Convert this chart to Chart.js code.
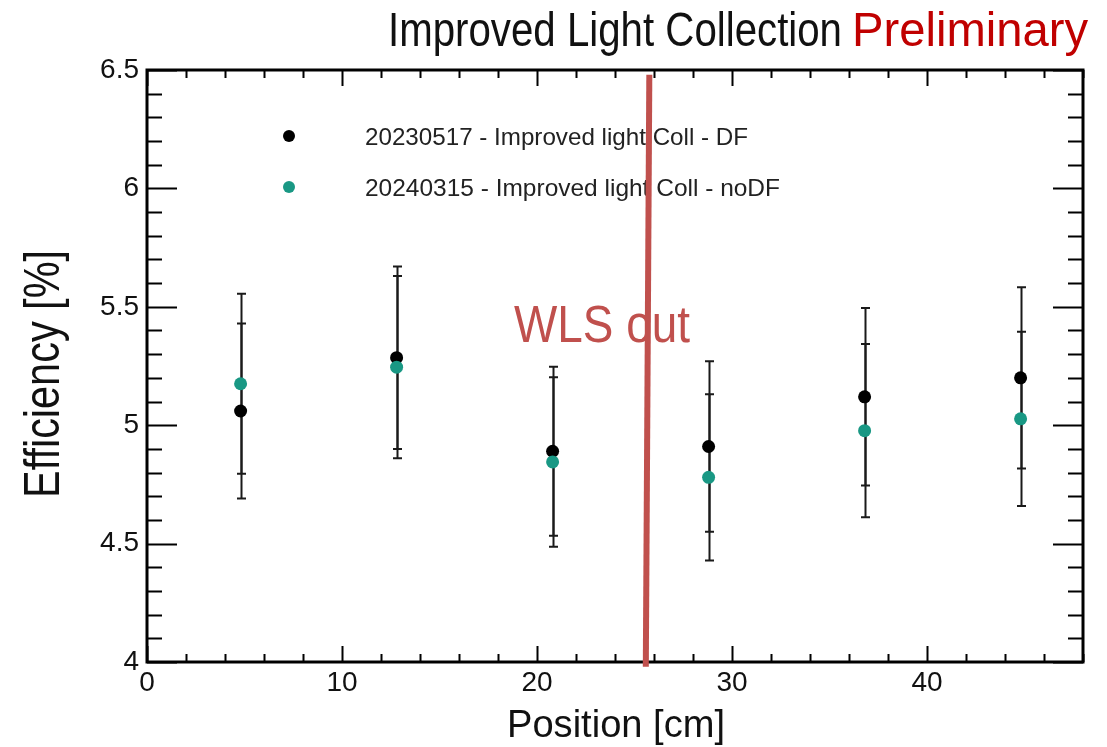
<!DOCTYPE html>
<html>
<head>
<meta charset="utf-8">
<title>Improved Light Collection</title>
<script src="https://cdn.jsdelivr.net/npm/chart.js@4/dist/chart.umd.min.js"></script>
<style>
  html, body { margin: 0; padding: 0; background: #fff; }
  #wrap { width: 1107px; height: 747px; }
</style>
</head>
<body>
<div id="wrap"><canvas id="grafica" width="1107" height="747"></canvas></div>
<script>
// posiciones de medida [cm]
const posiciones = [4.8, 12.8, 20.8, 28.8, 36.8, 44.8];

// 20230517 - DF
const efDF = [5.06, 5.285, 4.89, 4.91, 5.12, 5.20];
const errDF = [0.37, 0.385, 0.357, 0.36, 0.375, 0.383];

// 20240315 - noDF
const efNoDF = [5.175, 5.245, 4.845, 4.78, 4.977, 5.027];
const errNoDF = [0.38, 0.385, 0.358, 0.351, 0.366, 0.368];

// linea "WLS out"
const wlsX = [25.76, 25.58];
const wlsY = [6.48, 3.98];

const ticksX = [0, 10, 20, 30, 40];
const ticksY = [4, 4.5, 5, 5.5, 6, 6.5];

const etiquetasSeries = [
  "20230517 - Improved light Coll - DF",
  "20240315 - Improved light Coll - noDF"
];

const NEGRO = "#000000";
const VERDE = "#199884";
const ROJO = "#c0504d";
const FUENTE = '"Liberation Sans", Arial, sans-serif';

Chart.defaults.font.family = FUENTE;
Chart.defaults.color = "#111";

// texto ajustado a un ancho dado
function textoAjustado(ctx, texto, x, y, ancho, tam, color, rot) {
  ctx.save();
  ctx.font = `${tam}px ${FUENTE}`;
  ctx.fillStyle = color;
  ctx.textAlign = "left";
  ctx.textBaseline = "alphabetic";
  const w = ctx.measureText(texto).width;
  ctx.translate(x, y);
  if (rot) ctx.rotate(rot);
  ctx.scale(ancho / w, 1);
  ctx.fillText(texto, 0, 0);
  ctx.restore();
}

const marcoYTicks = {
  id: "marcoYTicks",
  beforeDatasetsDraw(chart) {
    const { ctx, chartArea: a, scales: { x, y } } = chart;
    ctx.save();
    ctx.strokeStyle = "#000";

    // ticks menores y mayores hacia dentro
    ctx.lineWidth = 2;
    ctx.beginPath();
    for (let i = 0; i <= 25; i++) {
      const v = 4 + i * 0.1;
      const py = Math.round(y.getPixelForValue(v)) + 0.5;
      const l = (i % 5 === 0) ? 30 : 15;
      ctx.moveTo(a.left, py); ctx.lineTo(a.left + l, py);
      ctx.moveTo(a.right, py); ctx.lineTo(a.right - l, py);
    }
    for (let v = 0; v <= 48; v += 2) {
      const px = Math.round(x.getPixelForValue(v)) + 0.5;
      const l = (v % 10 === 0) ? 16 : 8;
      ctx.moveTo(px, a.bottom); ctx.lineTo(px, a.bottom - l);
      ctx.moveTo(px, a.top); ctx.lineTo(px, a.top + l);
    }
    ctx.stroke();

    ctx.lineWidth = 3;
    ctx.strokeRect(a.left, a.top, a.right - a.left, a.bottom - a.top);

    // barras de error
    ctx.lineWidth = 2;
    ctx.strokeStyle = "#1a1a1a";
    const series = [[efDF, errDF], [efNoDF, errNoDF]];
    series.forEach(([vals, errs]) => {
      vals.forEach((v, i) => {
        const px = Math.round(x.getPixelForValue(posiciones[i])) + 0.5;
        const top = y.getPixelForValue(v + errs[i]);
        const bot = y.getPixelForValue(v - errs[i]);
        ctx.beginPath();
        ctx.moveTo(px, top); ctx.lineTo(px, bot);
        ctx.moveTo(px - 4.5, top); ctx.lineTo(px + 4.5, top);
        ctx.moveTo(px - 4.5, bot); ctx.lineTo(px + 4.5, bot);
        ctx.stroke();
      });
    });

    // leyenda
    [[NEGRO, 136, 145, 383], [VERDE, 187, 196, 415]].forEach(([c, cy, base, w], i) => {
      ctx.fillStyle = c;
      ctx.beginPath();
      ctx.arc(289, cy, 6, 0, Math.PI * 2);
      ctx.fill();
      textoAjustado(ctx, etiquetasSeries[i], 365, base, w, 24, "#222");
    });

    textoAjustado(ctx, "WLS out", 514, 342, 176, 51, ROJO);
    ctx.restore();
  },
  afterDraw(chart) {
    const { ctx } = chart;
    textoAjustado(ctx, "Improved Light Collection", 388, 46, 454, 48, "#111");
    textoAjustado(ctx, "Preliminary", 852, 46, 236, 48, "#c00000");
    textoAjustado(ctx, "Position [cm]", 507, 737, 218, 38, "#111");
    textoAjustado(ctx, "Efficiency [%]", 59, 498, 248, 50, "#111", -Math.PI / 2);
  }
};

new Chart(document.getElementById("grafica"), {
  type: "scatter",
  data: {
    datasets: [
      {
        label: "WLS out",
        data: wlsX.map((v, i) => ({ x: v, y: wlsY[i] })),
        showLine: true,
        borderColor: ROJO,
        borderWidth: 6,
        pointRadius: 0,
        clip: false,
        order: 0
      },
      {
        label: etiquetasSeries[1],
        data: posiciones.map((p, i) => ({ x: p, y: efNoDF[i] })),
        backgroundColor: VERDE,
        borderWidth: 0,
        pointRadius: 6.5,
        order: 1
      },
      {
        label: etiquetasSeries[0],
        data: posiciones.map((p, i) => ({ x: p, y: efDF[i] })),
        backgroundColor: NEGRO,
        borderWidth: 0,
        pointRadius: 6.5,
        order: 2
      }
    ]
  },
  options: {
    responsive: false,
    animation: false,
    layout: { padding: { top: 70, right: 24, left: 0, bottom: 0 } },
    plugins: {
      legend: { display: false },
      title: { display: false },
      tooltip: { enabled: false }
    },
    scales: {
      x: {
        type: "linear",
        min: 0,
        max: 48,
        grid: { display: false, drawTicks: false },
        border: { display: false },
        afterBuildTicks: s => { s.ticks = ticksX.map(v => ({ value: v })); },
        afterFit: s => { s.height = 85; },
        ticks: { font: { size: 28 }, color: "#111", padding: 4, maxRotation: 0 }
      },
      y: {
        type: "linear",
        min: 4,
        max: 6.5,
        grid: { display: false, drawTicks: false },
        border: { display: false },
        afterBuildTicks: s => { s.ticks = ticksY.map(v => ({ value: v })); },
        afterFit: s => { s.width = 147; },
        ticks: { font: { size: 28 }, color: "#111", padding: 8, callback: v => String(v) }
      }
    }
  },
  plugins: [marcoYTicks]
});
</script>
</body>
</html>
